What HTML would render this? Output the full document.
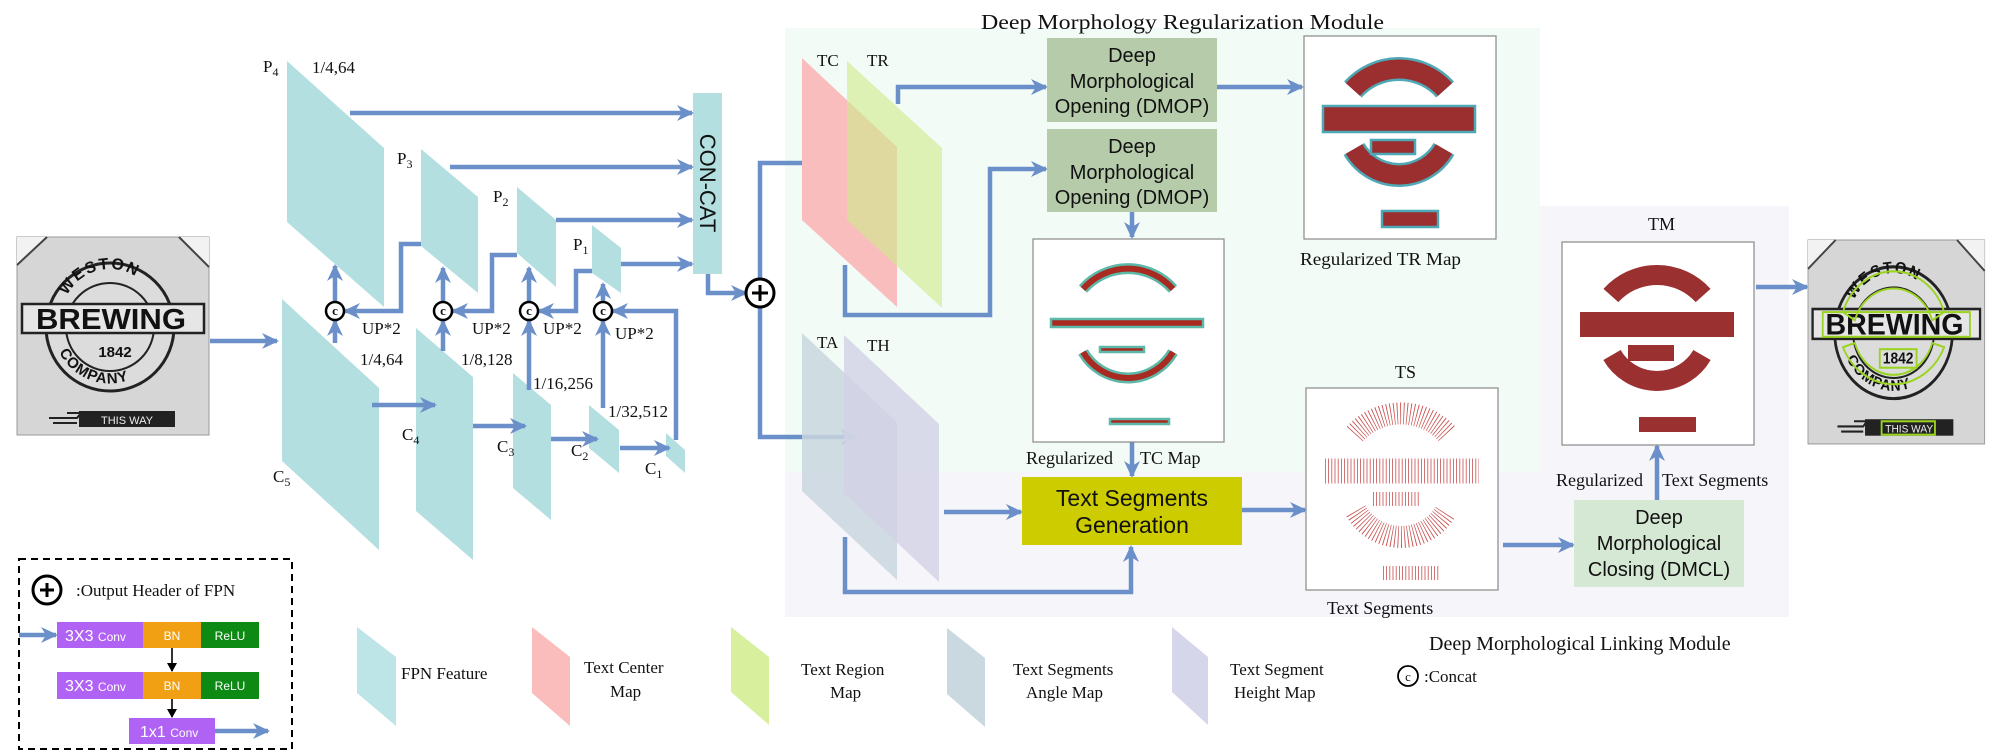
<!DOCTYPE html>
<html><head><meta charset="utf-8"><style>
html,body{margin:0;padding:0;background:#fff;}
svg{display:block;}
.s{font-family:"Liberation Serif",serif;fill:#111;}
.a{font-family:"Liberation Sans",sans-serif;fill:#111;}
.ln{fill:none;stroke:#6b8fc9;stroke-width:4.5;}
</style></head><body>
<svg width="2000" height="752" viewBox="0 0 2000 752" xmlns="http://www.w3.org/2000/svg">
<defs>
<marker id="m" markerWidth="18" markerHeight="18" refX="15" refY="9" orient="auto" markerUnits="userSpaceOnUse"><path d="M0,1 L17,9 L0,17 L5,9z" fill="#6b8fc9"/></marker>
<marker id="k" markerWidth="10" markerHeight="10" refX="8" refY="5" orient="auto" markerUnits="userSpaceOnUse"><path d="M0,0 L9,5 L0,10z" fill="#000"/></marker>
<path id="wt" d="M45,80 A48,48 0 0 1 141,80"/>
<path id="cb" d="M37,100 A57,57 0 0 0 149,100"/>
</defs>

<!-- backgrounds -->
<rect x="785" y="28" width="755" height="444" fill="#f2fbf5"/>
<path d="M785,472 H1540 V206 H1789 V617 H785z" fill="#f6f5fa"/>

<!-- input photo -->
<g transform="translate(17,237)">
<rect x="0" y="0" width="192" height="198" fill="#d6d6d6" stroke="#999" stroke-width="1"/>
<polygon points="0,0 30,0 0,28" fill="#f2f2f2"/><line x1="30" y1="0" x2="0" y2="28" stroke="#444" stroke-width="2"/>
<polygon points="162,0 192,0 192,30" fill="#f2f2f2"/><line x1="162" y1="0" x2="192" y2="30" stroke="#444" stroke-width="2"/>
<circle cx="93" cy="90" r="64" fill="#dcdcdc" stroke="#222" stroke-width="3"/>
<circle cx="93" cy="90" r="44" fill="none" stroke="#222" stroke-width="2"/>
<text class="a" font-size="16" font-weight="bold" letter-spacing="2"><textPath href="#wt" startOffset="22">WESTON</textPath></text>
<text class="a" font-size="15" font-weight="bold" letter-spacing="1"><textPath href="#cb" startOffset="16">COMPANY</textPath></text>
<rect x="5" y="67" width="182" height="29" fill="#e6e6e6" stroke="#222" stroke-width="2.5"/>
<text x="94" y="92" class="a" font-size="29" font-weight="bold" text-anchor="middle" textLength="150" lengthAdjust="spacingAndGlyphs">BREWING</text>
<text x="98" y="120" class="a" font-size="15" font-weight="bold" text-anchor="middle">1842</text>
<path d="M32,181 h28 l4,-5 h-14 M36,186 h24" stroke="#222" stroke-width="2" fill="none"/>
<rect x="62" y="174" width="96" height="16" fill="#222"/>
<text x="110" y="187" class="a" font-size="11" style="fill:#eee" text-anchor="middle">THIS WAY</text>
</g>
<path class="ln" d="M210,341 H277" marker-end="url(#m)"/>

<!-- FPN shapes -->
<g fill="#b3dfe0">
<polygon points="287,61 384,148 384,307 287,222"/>
<polygon points="421,149 478,197 478,293 421,246"/>
<polygon points="517,187 556,220 556,287 517,253"/>
<polygon points="592,225 621,248 621,293 592,273"/>
<polygon points="282,299 379,388 379,550 282,461"/>
<polygon points="416,328 473,377 473,560 416,511"/>
<polygon points="513,373 551,405 551,520 513,488"/>
<polygon points="589,405 619,430 619,473 589,448"/>
<polygon points="666,433 685,450 685,473 666,456"/>
</g>
<rect x="693" y="93" width="29" height="181" fill="#b3dfe0"/>
<text transform="translate(700,183) rotate(90)" class="a" font-size="22" text-anchor="middle">CON-CAT</text>

<g class="ln">
<path d="M350,113 H692" marker-end="url(#m)"/>
<path d="M450,167 H692" marker-end="url(#m)"/>
<path d="M556,220 H692" marker-end="url(#m)"/>
<path d="M621,264 H692" marker-end="url(#m)"/>
<path d="M708,274 V293 H746" marker-end="url(#m)"/>
<path d="M760,279 V163 H828" marker-end="url(#m)"/>
<path d="M760,307 V437 H856" marker-end="url(#m)"/>
<path d="M335,302 V266" marker-end="url(#m)"/>
<path d="M335,343 V321" marker-end="url(#m)"/>
<path d="M443,302 V268" marker-end="url(#m)"/>
<path d="M443,351 V321" marker-end="url(#m)"/>
<path d="M529,302 V268" marker-end="url(#m)"/>
<path d="M529,390 V321" marker-end="url(#m)"/>
<path d="M603,302 V284" marker-end="url(#m)"/>
<path d="M603,408 V321" marker-end="url(#m)"/>
<path d="M421,244 H401 V311 H345" marker-end="url(#m)"/>
<path d="M517,255 H492 V311 H453" marker-end="url(#m)"/>
<path d="M592,271 H576 V311 H539" marker-end="url(#m)"/>
<path d="M676,440 V311 H613" marker-end="url(#m)"/>
<path d="M372,405 H435" marker-end="url(#m)"/>
<path d="M473,426 H525" marker-end="url(#m)"/>
<path d="M551,439 H597" marker-end="url(#m)"/>
<path d="M620,448 H669" marker-end="url(#m)"/>
</g>
<circle cx="760" cy="293" r="14" fill="#fff" stroke="#000" stroke-width="3"/>
<path d="M752,293 H768 M760,285 V301" stroke="#000" stroke-width="3"/>
<g fill="#fff" stroke="#000" stroke-width="2.5">
<circle cx="335" cy="311" r="9"/><circle cx="443" cy="311" r="9"/><circle cx="529" cy="311" r="9"/><circle cx="603" cy="311" r="9"/>
</g>
<g class="s" font-size="13" font-weight="bold" text-anchor="middle">
<text x="335" y="315">c</text><text x="443" y="315">c</text><text x="529" y="315">c</text><text x="603" y="315">c</text>
</g>

<g class="s" font-size="17">
<text x="263" y="72">P<tspan font-size="12" dy="4">4</tspan></text>
<text x="312" y="73">1/4,64</text>
<text x="397" y="164">P<tspan font-size="12" dy="4">3</tspan></text>
<text x="493" y="202">P<tspan font-size="12" dy="4">2</tspan></text>
<text x="573" y="250">P<tspan font-size="12" dy="4">1</tspan></text>
<text x="362" y="334">UP*2</text>
<text x="472" y="334">UP*2</text>
<text x="543" y="334">UP*2</text>
<text x="615" y="339">UP*2</text>
<text x="360" y="365">1/4,64</text>
<text x="461" y="365">1/8,128</text>
<text x="533" y="389">1/16,256</text>
<text x="608" y="417">1/32,512</text>
<text x="402" y="440">C<tspan font-size="12" dy="4">4</tspan></text>
<text x="497" y="452">C<tspan font-size="12" dy="4">3</tspan></text>
<text x="571" y="456">C<tspan font-size="12" dy="4">2</tspan></text>
<text x="645" y="474">C<tspan font-size="12" dy="4">1</tspan></text>
<text x="273" y="482">C<tspan font-size="12" dy="4">5</tspan></text>
</g>

<!-- title -->
<text x="981" y="29" class="s" font-size="21" textLength="403" lengthAdjust="spacingAndGlyphs">Deep Morphology Regularization Module</text>

<!-- TC/TR/TA/TH -->
<polygon points="802,58 897,147 897,307 802,220" fill="#f9bdbd"/>
<polygon points="847,61 942,148 942,308 847,220" fill="#cfeb8a" opacity="0.6"/>
<polygon points="802,333 897,422 897,580 802,491" fill="#c9d6de" opacity="0.85"/>
<polygon points="844,335 939,424 939,582 844,493" fill="#d2d2e6" opacity="0.8"/>
<g class="s" font-size="17">
<text x="817" y="66">TC</text><text x="867" y="66">TR</text>
<text x="817" y="348">TA</text><text x="867" y="351">TH</text>
</g>
<g class="ln">
<path d="M898,104 V87 H1046" marker-end="url(#m)"/>
<path d="M845,265 V315 H990 V169 H1046" marker-end="url(#m)"/>
<path d="M1216,87 H1302" marker-end="url(#m)"/>
<path d="M1132,212 V237" marker-end="url(#m)"/>
<path d="M1132,442 V476" marker-end="url(#m)"/>
<path d="M944,512 H1021" marker-end="url(#m)"/>
<path d="M845,537 V592 H1131 V547" marker-end="url(#m)"/>
<path d="M1242,510 H1305" marker-end="url(#m)"/>
<path d="M1503,545 H1573" marker-end="url(#m)"/>
<path d="M1657,500 V446" marker-end="url(#m)"/>
<path d="M1756,287 H1807" marker-end="url(#m)"/>
</g>

<!-- DMOP boxes -->
<rect x="1047" y="38" width="170" height="84" fill="#b5cbaa"/>
<rect x="1047" y="129" width="170" height="83" fill="#b5cbaa"/>
<g class="a" font-size="20" text-anchor="middle">
<text x="1132" y="62">Deep</text><text x="1132" y="88">Morphological</text><text x="1132" y="113">Opening (DMOP)</text>
<text x="1132" y="153">Deep</text><text x="1132" y="179">Morphological</text><text x="1132" y="204">Opening (DMOP)</text>
</g>

<!-- Regularized TR map -->
<g transform="translate(1304,36)">
<rect width="192" height="203" fill="#fff" stroke="#888" stroke-width="1.2"/>
<g fill="none" stroke="#4fa8b6" stroke-width="24">
<path d="M48.9,53.5 A62,62 0 0 1 141.1,53.5"/><path d="M50,113 A52,52 0 0 0 140,113"/></g>
<g fill="none" stroke="#9b2e2e" stroke-width="19">
<path d="M48.9,53.5 A62,62 0 0 1 141.1,53.5"/><path d="M50,113 A52,52 0 0 0 140,113"/></g>
<g fill="#9b2e2e" stroke="#4fa8b6" stroke-width="2.5">
<rect x="19" y="70" width="152" height="26"/><rect x="67" y="104" width="44" height="14"/><rect x="78" y="175" width="56" height="16"/></g>
</g>
<text x="1300" y="265" class="s" font-size="18" textLength="161" lengthAdjust="spacingAndGlyphs">Regularized TR Map</text>

<!-- Regularized TC map -->
<g transform="translate(1033,239)">
<rect width="191" height="203" fill="#fff" stroke="#888" stroke-width="1.2"/>
<g fill="none" stroke="#5cb8a8" stroke-width="11">
<path d="M50,50 A60,60 0 0 1 140,50"/><path d="M50,113 A52,52 0 0 0 140,113"/></g>
<g fill="none" stroke="#a82a20" stroke-width="6">
<path d="M50,50 A60,60 0 0 1 140,50"/><path d="M50,113 A52,52 0 0 0 140,113"/></g>
<g fill="#a82a20" stroke="#5cb8a8" stroke-width="2.5">
<rect x="18" y="80" width="152" height="8"/><rect x="67" y="108" width="44" height="5"/><rect x="77" y="180" width="59" height="5"/></g>
</g>
<g class="s" font-size="18"><text x="1026" y="464">Regularized</text><text x="1140" y="464">TC Map</text></g>

<!-- Yellow box -->
<rect x="1022" y="477" width="220" height="68" fill="#cccc00"/>
<g class="a" font-size="23" text-anchor="middle"><text x="1132" y="506">Text Segments</text><text x="1132" y="533">Generation</text></g>

<!-- TS -->
<text x="1395" y="378" class="s" font-size="18">TS</text>
<g transform="translate(1306,388)">
<rect width="192" height="202" fill="#fff" stroke="#888" stroke-width="1.2"/>
<g fill="none" stroke="#c85050" stroke-width="22" stroke-dasharray="0.8 2.4">
<path d="M48.9,46 A62,62 0 0 1 141.1,46"/><path d="M50,123 A52,52 0 0 0 140,123"/>
<path d="M19,83 H173" stroke-width="25"/><path d="M67,111 H114" stroke-width="14"/><path d="M77,185 H133" stroke-width="14"/></g>
</g>
<text x="1327" y="614" class="s" font-size="18">Text Segments</text>

<!-- DMCL -->
<rect x="1574" y="500" width="170" height="87" fill="#d5e8d3"/>
<g class="a" font-size="20" text-anchor="middle"><text x="1659" y="524">Deep</text><text x="1659" y="550">Morphological</text><text x="1659" y="576">Closing  (DMCL)</text></g>
<g class="s" font-size="18"><text x="1556" y="486">Regularized</text><text x="1662" y="486">Text Segments</text></g>

<!-- TM -->
<text x="1648" y="230" class="s" font-size="18">TM</text>
<g transform="translate(1562,242)">
<rect width="192" height="203" fill="#fff" stroke="#888" stroke-width="1.2"/>
<g fill="none" stroke="#9b3030" stroke-width="20">
<path d="M48.9,53.5 A62,62 0 0 1 141.1,53.5"/><path d="M50,113 A52,52 0 0 0 140,113"/></g>
<g fill="#9b3030"><rect x="18" y="70" width="154" height="25"/><rect x="66" y="103" width="46" height="16"/><rect x="77" y="175" width="57" height="15"/></g>
</g>

<!-- output photo -->
<g transform="translate(1808,240) scale(0.92,1.03)">
<rect x="0" y="0" width="192" height="198" fill="#d6d6d6" stroke="#999" stroke-width="1"/>
<polygon points="0,0 30,0 0,28" fill="#f2f2f2"/><line x1="30" y1="0" x2="0" y2="28" stroke="#444" stroke-width="2"/>
<polygon points="162,0 192,0 192,30" fill="#f2f2f2"/><line x1="162" y1="0" x2="192" y2="30" stroke="#444" stroke-width="2"/>
<circle cx="93" cy="90" r="64" fill="#dcdcdc" stroke="#222" stroke-width="3"/>
<circle cx="93" cy="90" r="44" fill="none" stroke="#222" stroke-width="2"/>
<text class="a" font-size="16" font-weight="bold" letter-spacing="2"><textPath href="#wt" startOffset="22">WESTON</textPath></text>
<text class="a" font-size="15" font-weight="bold" letter-spacing="1"><textPath href="#cb" startOffset="16">COMPANY</textPath></text>
<rect x="5" y="67" width="182" height="29" fill="#e6e6e6" stroke="#222" stroke-width="2.5"/>
<text x="94" y="92" class="a" font-size="29" font-weight="bold" text-anchor="middle" textLength="150" lengthAdjust="spacingAndGlyphs">BREWING</text>
<text x="98" y="120" class="a" font-size="15" font-weight="bold" text-anchor="middle">1842</text>
<path d="M32,181 h28 l4,-5 h-14 M36,186 h24" stroke="#222" stroke-width="2" fill="none"/>
<rect x="62" y="174" width="96" height="16" fill="#222"/>
<text x="110" y="187" class="a" font-size="11" style="fill:#eee" text-anchor="middle">THIS WAY</text>
<g fill="none" stroke="#9bd420" stroke-width="2">
<rect x="16" y="70" width="160" height="24"/><rect x="78" y="106" width="40" height="18"/><rect x="80" y="176" width="58" height="13"/>
<path d="M38,70 A58,58 0 0 1 148,70 L135,78 A44,44 0 0 0 51,78z"/>
<path d="M38,104 A60,60 0 0 0 148,104 L135,100 A44,44 0 0 1 51,100z"/>
</g>
</g>

<text x="1429" y="650" class="s" font-size="20">Deep Morphological Linking Module</text>

<!-- Legend -->
<polygon points="357,627 396,657 396,726 357,693" fill="#bde4e6"/>
<polygon points="532,627 570,657 570,726 532,693" fill="#fbbcbc"/>
<polygon points="731,627 769,657 769,725 731,692" fill="#d8ef9e"/>
<polygon points="947,628 985,658 985,727 947,694" fill="#cad8e0"/>
<polygon points="1172,627 1208,657 1208,725 1172,692" fill="#d6d6ea"/>
<g class="s" font-size="17">
<text x="401" y="679">FPN Feature</text>
<text x="584" y="673">Text Center</text><text x="610" y="697">Map</text>
<text x="801" y="675">Text Region</text><text x="830" y="698">Map</text>
<text x="1013" y="675">Text Segments</text><text x="1026" y="698">Angle Map</text>
<text x="1230" y="675">Text Segment</text><text x="1234" y="698">Height Map</text>
<text x="1424" y="682">:Concat</text>
</g>
<circle cx="1408" cy="676" r="10" fill="#fff" stroke="#000" stroke-width="1.8"/>
<text x="1408" y="681" class="s" font-size="13" text-anchor="middle">c</text>

<!-- dashed box -->
<rect x="19" y="559" width="273" height="190" fill="none" stroke="#000" stroke-width="2" stroke-dasharray="7 5"/>
<circle cx="47" cy="590" r="14" fill="#fff" stroke="#000" stroke-width="3"/>
<path d="M40,590 H54 M47,583 V597" stroke="#000" stroke-width="3"/>
<text x="76" y="596" class="s" font-size="17">:Output Header of FPN</text>
<g font-family="Liberation Sans,sans-serif" fill="#fff">
<rect x="57" y="622" width="86" height="26" fill="#b062f5"/><rect x="143" y="622" width="58" height="26" fill="#f0a012"/><rect x="201" y="622" width="58" height="26" fill="#0c8a14"/>
<rect x="57" y="672" width="86" height="27" fill="#b062f5"/><rect x="143" y="672" width="58" height="27" fill="#f0a012"/><rect x="201" y="672" width="58" height="27" fill="#0c8a14"/>
<rect x="129" y="718" width="86" height="26" fill="#b062f5"/>
<text x="65" y="641" font-size="16">3X3 <tspan font-size="12">Conv</tspan></text>
<text x="172" y="640" font-size="12" text-anchor="middle">BN</text>
<text x="230" y="640" font-size="12" text-anchor="middle">ReLU</text>
<text x="65" y="691" font-size="16">3X3 <tspan font-size="12">Conv</tspan></text>
<text x="172" y="690" font-size="12" text-anchor="middle">BN</text>
<text x="230" y="690" font-size="12" text-anchor="middle">ReLU</text>
<text x="140" y="737" font-size="16">1x1 <tspan font-size="12">Conv</tspan></text>
</g>
<path class="ln" d="M19,635 H56" marker-end="url(#m)"/>
<path class="ln" d="M215,731 H268" marker-end="url(#m)"/>
<path d="M172,648 V671" stroke="#000" stroke-width="1.6" marker-end="url(#k)"/>
<path d="M172,699 V717" stroke="#000" stroke-width="1.6" marker-end="url(#k)"/>
</svg>
</body></html>
